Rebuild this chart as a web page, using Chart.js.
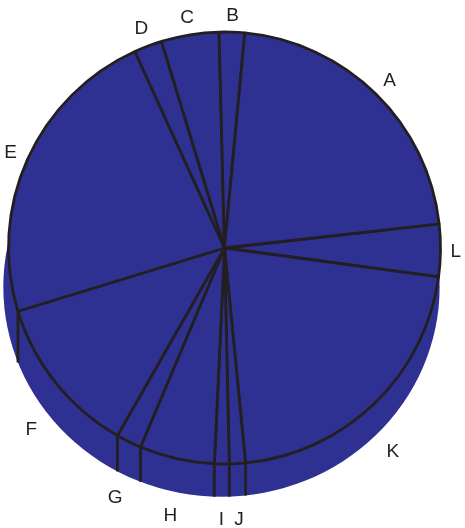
<!DOCTYPE html>
<html>
<head>
<meta charset="utf-8">
<script src="https://cdn.jsdelivr.net/npm/chart.js@4/dist/chart.umd.min.js"></script>
<style>
  body { margin: 0; background: #fff; }
  #wrap { width: 465px; height: 528px; }
</style>
</head>
<body>
<div id="wrap"><canvas id="pie3d"></canvas></div>
<script>
// slice names, alphabetical (they run counter-clockwise in the picture)
var sliceLabels = ['A', 'B', 'C', 'D', 'E', 'F', 'G', 'H', 'I', 'J', 'K', 'L'];
// share of each slice, %
var sliceValues = [21.7, 1.9, 4.3, 2.1, 22.9, 12.0, 1.9, 5.6, 1.1, 1.2, 21.3, 3.9];

var fillColor = '#2e3192';
var lineColor = '#231f20';

// bottom ellipse of the "3d" body, relative to the top face
function sideShape(a) {
  var r = a.outerRadius;
  return { ex: a.x - 0.014 * r, ey: a.y + 0.18 * r, rx: 1.01 * r, ry: 0.972 * r };
}

// side of the pie + vertical edges on the front
var sidePlugin = {
  id: 'pieSide',
  beforeDatasetsDraw: function (chart) {
    var arcs = chart.getDatasetMeta(0).data;
    if (!arcs.length) return;
    var cx = arcs[0].x, cy = arcs[0].y, r = arcs[0].outerRadius;
    var s = sideShape(arcs[0]);
    var ctx = chart.ctx;
    ctx.save();
    ctx.fillStyle = fillColor;
    ctx.beginPath();
    ctx.ellipse(s.ex, s.ey, s.rx, s.ry, 0, 0, Math.PI * 2);
    ctx.fill();
    ctx.strokeStyle = lineColor;
    ctx.lineWidth = 2.8;
    arcs.forEach(function (a) {
      var px = cx + r * Math.cos(a.startAngle);
      var py = cy + r * Math.sin(a.startAngle);
      if (py < cy + 0.25 * r) return;
      var k = (px - s.ex) / s.rx;
      if (Math.abs(k) >= 1) return;
      var by = s.ey + s.ry * Math.sqrt(1 - k * k);
      ctx.beginPath();
      ctx.moveTo(px, py);
      ctx.lineTo(px, by);
      ctx.stroke();
    });
    ctx.restore();
  }
};

// distance along a ray (o + t*d) to leave an ellipse
function rayOut(ox, oy, dx, dy, ex, ey, rx, ry) {
  var px = (ox - ex) / rx, py = (oy - ey) / ry, ux = dx / rx, uy = dy / ry;
  var A = ux * ux + uy * uy, B = 2 * (px * ux + py * uy), C = px * px + py * py - 1;
  return (-B + Math.sqrt(B * B - 4 * A * C)) / (2 * A);
}

// letters outside the pie, at the middle of each slice
var labelPlugin = {
  id: 'pieLabels',
  afterDatasetsDraw: function (chart) {
    var arcs = chart.getDatasetMeta(0).data;
    if (!arcs.length) return;
    var cx = arcs[0].x, cy = arcs[0].y, r = arcs[0].outerRadius;
    var s = sideShape(arcs[0]);
    var ctx = chart.ctx;
    ctx.save();
    ctx.font = '19px "Liberation Sans", Arial, sans-serif';
    ctx.fillStyle = lineColor;
    ctx.textAlign = 'center';
    ctx.textBaseline = 'middle';
    arcs.forEach(function (a, i) {
      var txt = chart.data.labels[i];
      var mid = (a.startAngle + a.endAngle) / 2;
      var dx = Math.cos(mid), dy = Math.sin(mid);
      // lower labels hang off the side, so their ray starts lower
      var low = Math.max(0, dy);
      var oy = cy + 0.13 * r * Math.min(1, 1.5 * low);
      var tTop = rayOut(cx, oy, dx, dy, cx, cy, r, r);
      var tSide = rayOut(cx, oy, dx, dy, s.ex, s.ey, s.rx, s.ry);
      var d = Math.max(tTop, tSide);
      var hw = ctx.measureText(txt).width / 2, hh = 7;
      d += 10 + Math.abs(dx) * hw + Math.abs(dy) * hh + 5 * low;
      ctx.fillText(txt, cx + dx * d, oy + dy * d + 1);
    });
    ctx.restore();
  }
};

new Chart(document.getElementById('pie3d'), {
  type: 'pie',
  data: {
    labels: sliceLabels.slice().reverse(),
    datasets: [{
      data: sliceValues.slice().reverse(),
      backgroundColor: fillColor,
      borderColor: lineColor,
      borderWidth: 2.8,
      borderAlign: 'center'
    }]
  },
  options: {
    responsive: true,
    maintainAspectRatio: false,
    animation: false,
    events: [],
    rotation: 83.6,
    radius: 216,
    layout: { padding: { left: 8, right: 24, top: 32, bottom: 64 } },
    plugins: {
      legend: { display: false },
      tooltip: { enabled: false }
    }
  },
  plugins: [sidePlugin, labelPlugin]
});
</script>
</body>
</html>
